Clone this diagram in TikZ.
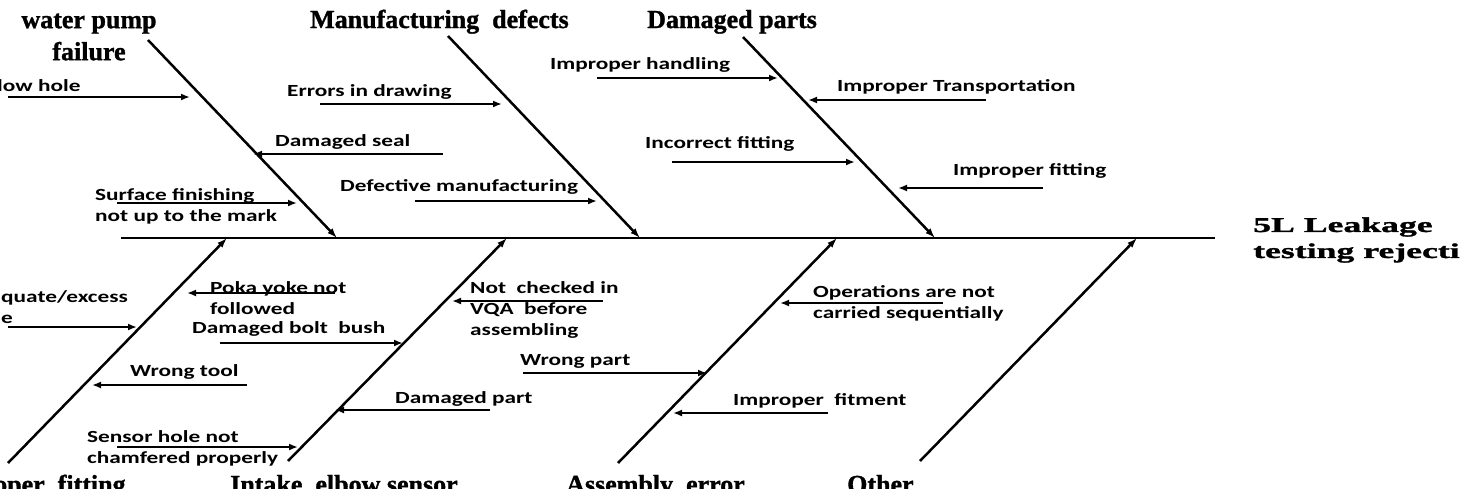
\documentclass[tikz,border=0pt]{standalone}
\usepackage{fontspec}
\usetikzlibrary{arrows.meta}
\newfontfamily\causefont[FakeStretch=1.37]{Carlito}
\newfontfamily\catfont[FakeBold=1.2]{Liberation Serif}
\newfontfamily\effectfont[FakeStretch=1.7,FakeBold=1.5]{Liberation Serif}
\begin{document}
\begin{tikzpicture}[x=1pt,y=-1pt,
  bone/.style={line width=2.5pt,-{Latex[length=10pt,width=7pt]}},
  cause/.style={line width=2pt,-{Latex[length=9pt,width=7pt]}},
  ctext/.style={anchor=west,inner sep=0pt,align=left,font=\causefont\bfseries\fontsize{17}{21}\selectfont},
  cat/.style={anchor=base west,inner sep=0pt,font=\catfont\bfseries\fontsize{26}{32}\selectfont}]
  \useasboundingbox (0,0) rectangle (1464,493);
  \clip (0,0) rectangle (1464,488);
  % Hauptgräte
  \coordinate (spineL) at (121,238);
  \coordinate (spineR) at (1215,238);
  \draw[line width=2.5pt] (spineL) -- (spineR);
  % Gräte oben
  \coordinate (tA) at (148,40);  \coordinate (hA) at (337,238);
  \coordinate (tB) at (448,36);  \coordinate (hB) at (640,238);
  \coordinate (tC) at (743,37);  \coordinate (hC) at (935,238);
  \draw[bone] (tA) -- (hA);
  \draw[bone] (tB) -- (hB);
  \draw[bone] (tC) -- (hC);
  % Gräte unten
  \coordinate (bA) at (8,463);   \coordinate (hD) at (227,238);
  \coordinate (bB) at (288,461); \coordinate (hE) at (507,238);
  \coordinate (bC) at (618,463); \coordinate (hF) at (837,238);
  \coordinate (bD) at (920,461); \coordinate (hG) at (1137,238);
  \draw[bone] (bA) -- (hD);
  \draw[bone] (bB) -- (hE);
  \draw[bone] (bC) -- (hF);
  \draw[bone] (bD) -- (hG);
  % Wirkung
  \node[anchor=west,inner sep=0pt,align=left,font=\effectfont\bfseries\fontsize{21}{26}\selectfont]
    (effect) at (1253,240) {5L Leakage\\testing rejecti};
  % Kategorien
  \node[inner sep=0pt,align=center,font=\catfont\bfseries\fontsize{26}{32}\selectfont]
    (pump) at (89,37) {water pump\\failure};
  \node[cat] (mfg) at (310,28) {Manufacturing\ \ defects};
  \node[cat] (dmg) at (647,28) {Damaged parts};
  \node[cat] (fit) at (-6,493) {oper\ \ fitting};
  \node[cat] (elbow) at (230,493) {Intake\ \ elbow sensor};
  \node[cat] (asm) at (566,493) {Assembly\ \ error};
  \node[cat] (other) at (847,493) {Other};
  % Ursachen oben
  \node[ctext] (blow) at (-3,86) {low hole};
  \coordinate (blow1) at (8,97);     \coordinate (blow2) at (190,97);
  \draw[cause] (blow1) -- (blow2);
  \node[ctext] (seal) at (275,142) {Damaged seal};
  \coordinate (seal1) at (443,154);  \coordinate (seal2) at (253,154);
  \draw[cause] (seal1) -- (seal2);
  \node[ctext] (surf) at (95,206) {Surface finishing\\not up to the mark};
  \coordinate (surf1) at (117,203);  \coordinate (surf2) at (297,203);
  \draw[cause] (surf1) -- (surf2);
  \node[ctext] (draw) at (287,92) {Errors in drawing};
  \coordinate (draw1) at (320,104);  \coordinate (draw2) at (502,104);
  \draw[cause] (draw1) -- (draw2);
  \node[ctext] (defm) at (340,187) {Defective manufacturing};
  \coordinate (defm1) at (415,201);  \coordinate (defm2) at (597,201);
  \draw[cause] (defm1) -- (defm2);
  \node[ctext] (hand) at (550,65) {Improper handling};
  \coordinate (hand1) at (597,78);   \coordinate (hand2) at (778,78);
  \draw[cause] (hand1) -- (hand2);
  \node[ctext] (trans) at (837,87) {Improper Transportation};
  \coordinate (trans1) at (986,100); \coordinate (trans2) at (808,100);
  \draw[cause] (trans1) -- (trans2);
  \node[ctext] (incf) at (645,144) {Incorrect fitting};
  \coordinate (incf1) at (672,162);  \coordinate (incf2) at (855,162);
  \draw[cause] (incf1) -- (incf2);
  \node[ctext] (impf) at (953,171) {Improper fitting};
  \coordinate (impf1) at (1043,188); \coordinate (impf2) at (898,188);
  \draw[cause] (impf1) -- (impf2);
  % Ursachen unten
  \node[ctext] (torq) at (1,307) {quate/excess\\e};
  \coordinate (torq1) at (8,327);    \coordinate (torq2) at (137,327);
  \draw[cause] (torq1) -- (torq2);
  \node[ctext] (poka) at (210,298) {Poka yoke not\\followed};
  \coordinate (poka1) at (335,293);  \coordinate (poka2) at (187,293);
  \draw[cause] (poka1) -- (poka2);
  \node[ctext] (bush) at (192,329) {Damaged bolt\ \ bush};
  \coordinate (bush1) at (220,343);  \coordinate (bush2) at (403,343);
  \draw[cause] (bush1) -- (bush2);
  \node[ctext] (tool) at (130,372) {Wrong tool};
  \coordinate (tool1) at (247,385);  \coordinate (tool2) at (92,385);
  \draw[cause] (tool1) -- (tool2);
  \node[ctext] (sens) at (87,448) {Sensor hole not\\chamfered properly};
  \coordinate (sens1) at (117,447);  \coordinate (sens2) at (298,447);
  \draw[cause] (sens1) -- (sens2);
  \node[ctext] (dpart) at (395,399) {Damaged part};
  \coordinate (dpart1) at (490,410); \coordinate (dpart2) at (335,410);
  \draw[cause] (dpart1) -- (dpart2);
  \node[ctext] (vqa) at (470,310) {Not\ \ checked in\\VQA\ \ before\\assembling};
  \coordinate (vqa1) at (603,301);   \coordinate (vqa2) at (452,301);
  \draw[cause] (vqa1) -- (vqa2);
  \node[ctext] (seq) at (813,303) {Operations are not\\carried sequentially};
  \coordinate (seq1) at (943,303);   \coordinate (seq2) at (780,303);
  \draw[cause] (seq1) -- (seq2);
  \node[ctext] (wpart) at (520,361) {Wrong part};
  \coordinate (wpart1) at (523,373); \coordinate (wpart2) at (707,373);
  \draw[cause] (wpart1) -- (wpart2);
  \node[ctext] (fitm) at (733,401) {Improper\ \ fitment};
  \coordinate (fitm1) at (828,413);  \coordinate (fitm2) at (673,413);
  \draw[cause] (fitm1) -- (fitm2);
\end{tikzpicture}
\end{document}
